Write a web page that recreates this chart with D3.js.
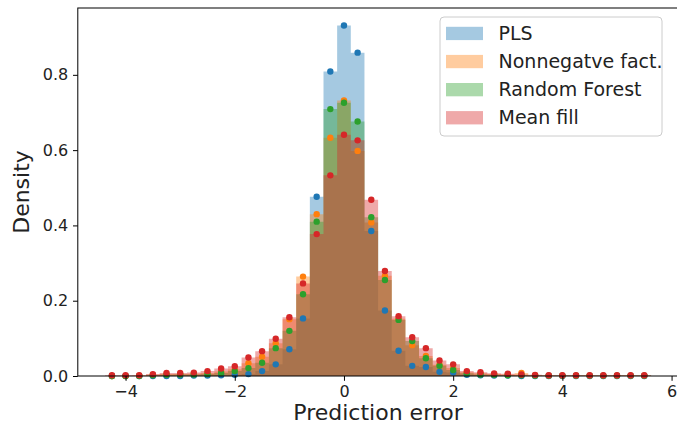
<!DOCTYPE html>
<html>
<head>
<meta charset="utf-8">
<script src="https://cdn.jsdelivr.net/npm/d3@7"></script>
<style>
  html, body { margin: 0; padding: 0; background: #fff; }
  svg { display: block; font-family: "DejaVu Sans", sans-serif; }
</style>
</head>
<body>
<svg id="chart" width="677" height="427"></svg>
<script>
// ---- data ----
const binCenters = d3.range(40).map(i => -4.25 + i * 0.25);
const binWidth = 0.25;
const seriesNames = ["PLS", "Nonnegatve fact.", "Random Forest", "Mean fill"];
const seriesColors = ["#1f77b4", "#ff7f0e", "#2ca02c", "#d62728"];

const plsValues = [0, 0, 0, 0, 0, 0, 0.001, 0.001, 0.002, 0.003,
  0.005, 0.013, 0.031, 0.071, 0.153, 0.476, 0.809, 0.931, 0.859, 0.385,
  0.174, 0.067, 0.027, 0.024, 0.011, 0.009, 0.003, 0.002, 0.001, 0.001,
  0, 0, 0, 0, 0, 0, 0, 0, 0, 0];
const nmfValues = [0, 0, 0.001, 0.003, 0.005, 0.005, 0.006, 0.008, 0.012, 0.018,
  0.034, 0.051, 0.087, 0.151, 0.264, 0.430, 0.633, 0.732, 0.598, 0.408,
  0.266, 0.152, 0.082, 0.053, 0.030, 0.021, 0.010, 0.007, 0.005, 0.004,
  0.008, 0.002, 0.001, 0.001, 0.001, 0.001, 0.001, 0.001, 0.001, 0.001];
const rfValues = [0, 0, 0, 0.002, 0.003, 0.004, 0.004, 0.005, 0.008, 0.013,
  0.021, 0.035, 0.074, 0.120, 0.217, 0.410, 0.709, 0.726, 0.676, 0.422,
  0.255, 0.149, 0.093, 0.047, 0.027, 0.016, 0.007, 0.004, 0.003, 0.002,
  0.002, 0.001, 0.001, 0.001, 0.001, 0.001, 0.001, 0.001, 0.001, 0.001];
const meanValues = [0.002, 0.002, 0.002, 0.005, 0.008, 0.008, 0.009, 0.013, 0.020, 0.026,
  0.049, 0.066, 0.099, 0.156, 0.246, 0.377, 0.533, 0.641, 0.626, 0.468,
  0.279, 0.159, 0.103, 0.074, 0.041, 0.031, 0.013, 0.010, 0.007, 0.006,
  0.004, 0.003, 0.002, 0.002, 0.002, 0.002, 0.002, 0.002, 0.002, 0.002];
const allSeries = [plsValues, nmfValues, rfValues, meanValues];

const xTicks = [-4, -2, 0, 2, 4, 6];
const yTicks = [0.0, 0.2, 0.4, 0.6, 0.8];

// ---- layout ----
const svg = d3.select("#chart");
const plotLeft = 77.8, plotRight = 678.4, plotTop = 8, plotBottom = 376;
const xMin = binCenters[0] - binWidth / 2, xMax = binCenters[binCenters.length - 1] + binWidth / 2;
const xPad = (xMax - xMin) * 0.05;
const x = d3.scaleLinear().domain([xMin - xPad, xMax + xPad]).range([plotLeft, plotRight]);
const yMaxVal = d3.max(allSeries.flat());
const y = d3.scaleLinear().domain([0, yMaxVal * 1.05]).range([plotBottom, plotTop]);

// histograms (stepfilled)
const area = d3.area().x(d => x(d[0])).y0(y(0)).y1(d => y(d[1]));
allSeries.forEach((vals, si) => {
  const pts = [];
  binCenters.forEach((c, i) => {
    pts.push([c - binWidth / 2, vals[i]]);
    pts.push([c + binWidth / 2, vals[i]]);
  });
  svg.append("path").datum(pts).attr("d", area)
    .attr("fill", seriesColors[si]).attr("fill-opacity", 0.4).attr("stroke", "none");
});

// dots
allSeries.forEach((vals, si) => {
  svg.append("g").selectAll("circle").data(binCenters).join("circle")
    .attr("cx", d => x(d)).attr("cy", (d, i) => y(vals[i])).attr("r", 3.2)
    .attr("fill", seriesColors[si]);
});

// axes
const fontTick = 16;
const xAxis = d3.axisBottom(x).tickValues(xTicks).tickSize(4.8).tickPadding(4.8)
  .tickFormat(d => d3.format("d")(d).replace("-", "\u2212"));
const gx = svg.append("g").attr("transform", `translate(0,${plotBottom})`).call(xAxis);
const yAxis = d3.axisLeft(y).tickValues(yTicks).tickSize(4.8).tickPadding(4.8)
  .tickFormat(d3.format(".1f"));
const gy = svg.append("g").attr("transform", `translate(${plotLeft},0)`).call(yAxis);
[gx, gy].forEach(g => {
  g.select(".domain").remove();
  g.selectAll("line").attr("stroke", "#000").attr("stroke-width", 1);
  g.selectAll("text").attr("fill", "#222").style("font-size", fontTick + "px")
    .style("font-family", "'DejaVu Sans', sans-serif");
});

// spines
svg.append("rect").attr("x", plotLeft).attr("y", plotTop).attr("width", plotRight - plotLeft).attr("height", plotBottom - plotTop)
  .attr("fill", "none").attr("stroke", "#000").attr("stroke-width", 1);

// axis labels
svg.append("text").attr("x", (plotLeft + plotRight) / 2).attr("y", 420).attr("text-anchor", "middle")
  .style("font-size", "22px").attr("fill", "#222").text("Prediction error");
svg.append("text").attr("transform", `translate(29,${(plotTop + plotBottom) / 2}) rotate(-90)`)
  .attr("text-anchor", "middle").style("font-size", "22px").attr("fill", "#222").text("Density");

// legend
const lg = svg.append("g");
lg.append("rect").attr("x", 440).attr("y", 17).attr("width", 222).attr("height", 119)
  .attr("rx", 4).attr("fill", "#fff").attr("fill-opacity", 0.8).attr("stroke", "#ccc").attr("stroke-width", 1);
seriesNames.forEach((name, i) => {
  const cy = 33.5 + i * 28.1;
  lg.append("rect").attr("x", 446).attr("y", cy - 6.7).attr("width", 37).attr("height", 13.3)
    .attr("fill", seriesColors[i]).attr("fill-opacity", 0.4);
  lg.append("text").attr("x", 498.5).attr("y", cy).attr("dy", "0.35em")
    .style("font-size", "19px").attr("fill", "#222").text(name);
});
</script>
</body>
</html>
